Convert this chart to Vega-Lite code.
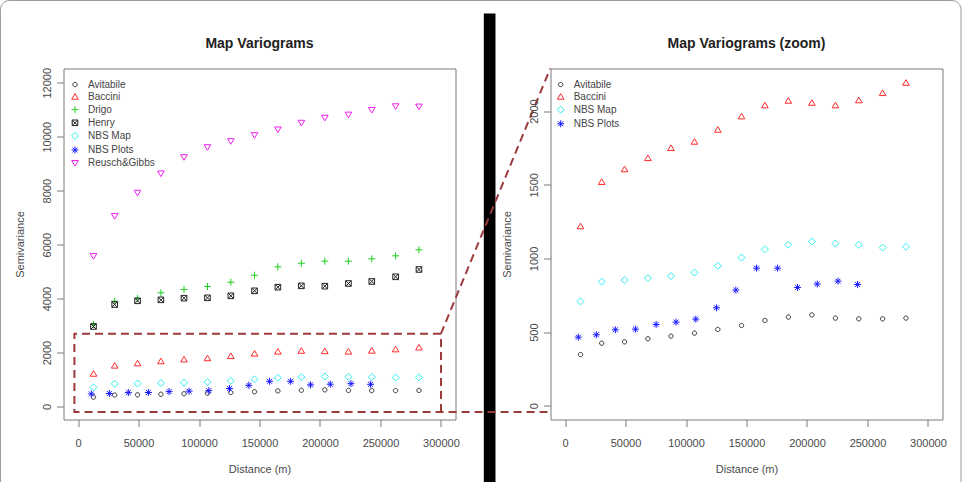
{
  "$schema": "https://vega.github.io/schema/vega-lite/v6.json",
  "background": "white",
  "padding": {"left": -1.5, "top": -0.5, "right": 0, "bottom": 0},
  "bounds": "flush",
  "spacing": 95,
  "datasets": {
    "variogram": [
      {"series": "Avitabile", "lag": 12800, "gamma": 348},
      {"series": "Avitabile", "lag": 30300, "gamma": 425},
      {"series": "Avitabile", "lag": 49200, "gamma": 434},
      {"series": "Avitabile", "lag": 68500, "gamma": 455},
      {"series": "Avitabile", "lag": 87600, "gamma": 473},
      {"series": "Avitabile", "lag": 107000, "gamma": 493},
      {"series": "Avitabile", "lag": 126300, "gamma": 518},
      {"series": "Avitabile", "lag": 145900, "gamma": 545},
      {"series": "Avitabile", "lag": 165200, "gamma": 579},
      {"series": "Avitabile", "lag": 184600, "gamma": 602},
      {"series": "Avitabile", "lag": 204000, "gamma": 617},
      {"series": "Avitabile", "lag": 223500, "gamma": 595},
      {"series": "Avitabile", "lag": 242800, "gamma": 590},
      {"series": "Avitabile", "lag": 262500, "gamma": 590},
      {"series": "Avitabile", "lag": 281800, "gamma": 595},
      {"series": "Baccini", "lag": 12800, "gamma": 1219},
      {"series": "Baccini", "lag": 30300, "gamma": 1520},
      {"series": "Baccini", "lag": 49200, "gamma": 1606},
      {"series": "Baccini", "lag": 68500, "gamma": 1682},
      {"series": "Baccini", "lag": 87600, "gamma": 1750},
      {"series": "Baccini", "lag": 107000, "gamma": 1793},
      {"series": "Baccini", "lag": 126300, "gamma": 1874},
      {"series": "Baccini", "lag": 145900, "gamma": 1965},
      {"series": "Baccini", "lag": 165200, "gamma": 2040},
      {"series": "Baccini", "lag": 184600, "gamma": 2071},
      {"series": "Baccini", "lag": 204000, "gamma": 2057},
      {"series": "Baccini", "lag": 223500, "gamma": 2040},
      {"series": "Baccini", "lag": 242800, "gamma": 2074},
      {"series": "Baccini", "lag": 262500, "gamma": 2123},
      {"series": "Baccini", "lag": 281800, "gamma": 2193},
      {"series": "Drigo", "lag": 12800, "gamma": 3040},
      {"series": "Drigo", "lag": 30300, "gamma": 3903},
      {"series": "Drigo", "lag": 49200, "gamma": 4004},
      {"series": "Drigo", "lag": 68500, "gamma": 4215},
      {"series": "Drigo", "lag": 87600, "gamma": 4337},
      {"series": "Drigo", "lag": 107000, "gamma": 4448},
      {"series": "Drigo", "lag": 126300, "gamma": 4608},
      {"series": "Drigo", "lag": 145900, "gamma": 4867},
      {"series": "Drigo", "lag": 165200, "gamma": 5178},
      {"series": "Drigo", "lag": 184600, "gamma": 5312},
      {"series": "Drigo", "lag": 204000, "gamma": 5386},
      {"series": "Drigo", "lag": 223500, "gamma": 5386},
      {"series": "Drigo", "lag": 242800, "gamma": 5475},
      {"series": "Drigo", "lag": 262500, "gamma": 5586},
      {"series": "Drigo", "lag": 281800, "gamma": 5809},
      {"series": "Henry", "lag": 12800, "gamma": 2966},
      {"series": "Henry", "lag": 30300, "gamma": 3781},
      {"series": "Henry", "lag": 49200, "gamma": 3918},
      {"series": "Henry", "lag": 68500, "gamma": 3955},
      {"series": "Henry", "lag": 87600, "gamma": 4015},
      {"series": "Henry", "lag": 107000, "gamma": 4029},
      {"series": "Henry", "lag": 126300, "gamma": 4103},
      {"series": "Henry", "lag": 145900, "gamma": 4289},
      {"series": "Henry", "lag": 165200, "gamma": 4423},
      {"series": "Henry", "lag": 184600, "gamma": 4474},
      {"series": "Henry", "lag": 204000, "gamma": 4460},
      {"series": "Henry", "lag": 223500, "gamma": 4560},
      {"series": "Henry", "lag": 242800, "gamma": 4634},
      {"series": "Henry", "lag": 262500, "gamma": 4808},
      {"series": "Henry", "lag": 281800, "gamma": 5079},
      {"series": "NBS Map", "lag": 12800, "gamma": 708},
      {"series": "NBS Map", "lag": 30300, "gamma": 843},
      {"series": "NBS Map", "lag": 49200, "gamma": 853},
      {"series": "NBS Map", "lag": 68500, "gamma": 866},
      {"series": "NBS Map", "lag": 87600, "gamma": 880},
      {"series": "NBS Map", "lag": 107000, "gamma": 904},
      {"series": "NBS Map", "lag": 126300, "gamma": 950},
      {"series": "NBS Map", "lag": 145900, "gamma": 1006},
      {"series": "NBS Map", "lag": 165200, "gamma": 1063},
      {"series": "NBS Map", "lag": 184600, "gamma": 1094},
      {"series": "NBS Map", "lag": 204000, "gamma": 1115},
      {"series": "NBS Map", "lag": 223500, "gamma": 1101},
      {"series": "NBS Map", "lag": 242800, "gamma": 1092},
      {"series": "NBS Map", "lag": 262500, "gamma": 1074},
      {"series": "NBS Map", "lag": 281800, "gamma": 1079},
      {"series": "NBS Plots", "lag": 11000, "gamma": 466},
      {"series": "NBS Plots", "lag": 25900, "gamma": 482},
      {"series": "NBS Plots", "lag": 41600, "gamma": 516},
      {"series": "NBS Plots", "lag": 58200, "gamma": 520},
      {"series": "NBS Plots", "lag": 75300, "gamma": 552},
      {"series": "NBS Plots", "lag": 91800, "gamma": 568},
      {"series": "NBS Plots", "lag": 108100, "gamma": 588},
      {"series": "NBS Plots", "lag": 125200, "gamma": 665},
      {"series": "NBS Plots", "lag": 141200, "gamma": 785},
      {"series": "NBS Plots", "lag": 158300, "gamma": 934},
      {"series": "NBS Plots", "lag": 175700, "gamma": 934},
      {"series": "NBS Plots", "lag": 192200, "gamma": 803},
      {"series": "NBS Plots", "lag": 208500, "gamma": 826},
      {"series": "NBS Plots", "lag": 225600, "gamma": 846},
      {"series": "NBS Plots", "lag": 241800, "gamma": 823},
      {"series": "Reusch&Gibbs", "lag": 12800, "gamma": 5572},
      {"series": "Reusch&Gibbs", "lag": 30300, "gamma": 7054},
      {"series": "Reusch&Gibbs", "lag": 49200, "gamma": 7919},
      {"series": "Reusch&Gibbs", "lag": 68500, "gamma": 8634},
      {"series": "Reusch&Gibbs", "lag": 87600, "gamma": 9238},
      {"series": "Reusch&Gibbs", "lag": 107000, "gamma": 9609},
      {"series": "Reusch&Gibbs", "lag": 126300, "gamma": 9831},
      {"series": "Reusch&Gibbs", "lag": 145900, "gamma": 10054},
      {"series": "Reusch&Gibbs", "lag": 165200, "gamma": 10265},
      {"series": "Reusch&Gibbs", "lag": 184600, "gamma": 10513},
      {"series": "Reusch&Gibbs", "lag": 204000, "gamma": 10698},
      {"series": "Reusch&Gibbs", "lag": 223500, "gamma": 10816},
      {"series": "Reusch&Gibbs", "lag": 242800, "gamma": 10990},
      {"series": "Reusch&Gibbs", "lag": 262500, "gamma": 11125},
      {"series": "Reusch&Gibbs", "lag": 281800, "gamma": 11114}
    ],
    "zoomFrame": [
      {"part": "box", "step": 1, "lag": 300000, "gamma": 2700},
      {"part": "box", "step": 2, "lag": -3000, "gamma": 2700},
      {"part": "box", "step": 3, "lag": -3000, "gamma": -200},
      {"part": "box", "step": 4, "lag": 388000, "gamma": -200},
      {"part": "side", "step": 1, "lag": 300000, "gamma": -200},
      {"part": "side", "step": 2, "lag": 300000, "gamma": 2700},
      {"part": "side", "step": 3, "lag": 390300, "gamma": 12530}
    ]
  },
  "config": {
    "font": "Liberation Sans",
    "view": {"stroke": "#7a7a7a", "strokeWidth": 1},
    "title": {"fontSize": 14, "fontWeight": "bold", "color": "#222222", "anchor": "middle", "frame": "group", "offset": 18},
    "axis": {
      "domain": false, "grid": false, "ticks": true,
      "tickColor": "#7a7a7a", "tickSize": 7,
      "labelFontSize": 11, "labelColor": "#4a4a4a",
      "labelFlush": false, "labelOverlap": false, "labelBound": false,
      "titleFontSize": 11, "titleFontWeight": "normal", "titleColor": "#4a4a4a"
    },
    "axisX": {"labelPadding": 11, "titlePadding": 15},
    "axisY": {"labelAngle": 270, "labelAlign": "center", "labelBaseline": "bottom", "labelPadding": 4, "titlePadding": 16},
    "legend": {
      "orient": "none", "title": null, "padding": 0,
      "labelFontSize": 10, "labelColor": "#444444", "labelOffset": 8,
      "symbolSize": 49, "symbolStrokeWidth": 1, "rowPadding": 2.1
    }
  },
  "hconcat": [
    {
      "width": 392,
      "height": 351,
      "title": {"text": "Map Variograms", "offset": -50.5},
      "layer": [
        {
          "data": {"values": [{}]},
          "mark": {"type": "rect", "filled": false, "stroke": "#9a9a9a", "strokeWidth": 1, "cornerRadius": 9, "clip": false},
          "encoding": {
            "x": {"datum": -64100, "type": "quantitative"},
            "x2": {"datum": 729800},
            "y": {"datum": 15050, "type": "quantitative"},
            "y2": {"datum": -3300}
          }
        },
        {
          "data": {"values": [{}]},
          "mark": {"type": "rect", "color": "black", "clip": false},
          "encoding": {
            "x": {"datum": 335400, "type": "quantitative"},
            "x2": {"datum": 345050},
            "y": {"datum": 14570, "type": "quantitative"},
            "y2": {"datum": -3300}
          }
        },
        {
          "data": {"name": "variogram"},
          "mark": {"type": "point", "filled": false, "strokeWidth": 1, "size": 49, "opacity": 1},
          "encoding": {
            "x": {"field": "lag", "type": "quantitative", "title": "Distance (m)",
              "scale": {"domain": [-12000, 312000], "nice": false, "zero": false},
              "axis": {"values": [0, 50000, 100000, 150000, 200000, 250000, 300000], "format": "d"}},
            "y": {"field": "gamma", "type": "quantitative", "title": "Semivariance",
              "scale": {"domain": [-482, 12530], "nice": false, "zero": false},
              "axis": {"values": [0, 2000, 4000, 6000, 8000, 10000, 12000], "format": "d"}},
            "color": {"field": "series", "type": "nominal",
              "scale": {"domain": ["Avitabile", "Baccini", "Drigo", "Henry", "NBS Map", "NBS Plots", "Reusch&Gibbs"],
                "range": ["#333333", "#ff2a2a", "#1ecf1e", "#222222", "#2ef0f0", "#1a1aff", "#f020f0"]},
              "legend": {"legendX": 6.5, "legendY": 11}},
            "shape": {"field": "series", "type": "nominal",
              "scale": {"domain": ["Avitabile", "Baccini", "Drigo", "Henry", "NBS Map", "NBS Plots", "Reusch&Gibbs"],
                "range": [
                  "M-0.62,0A0.62,0.62 0 1,0 0.62,0A0.62,0.62 0 1,0 -0.62,0Z",
                  "M0,-0.85L0.95,0.75L-0.95,0.75Z",
                  "M-1,0H1M0,-1V1",
                  "M-0.8,-0.8H0.8V0.8H-0.8ZM-0.8,-0.8L0.8,0.8M0.8,-0.8L-0.8,0.8",
                  "M0,-1L1,0L0,1L-1,0Z",
                  "M-1,0H1M0,-1V1M-0.7,-0.7L0.7,0.7M0.7,-0.7L-0.7,0.7",
                  "M0,0.85L0.95,-0.75L-0.95,-0.75Z"
                ]},
              "legend": {"legendX": 6.5, "legendY": 11}}
          }
        },
        {
          "data": {"name": "zoomFrame"},
          "mark": {"type": "line", "stroke": "#9c3a3c", "strokeWidth": 2, "strokeDash": [8, 5], "clip": false},
          "encoding": {
            "x": {"field": "lag", "type": "quantitative"},
            "y": {"field": "gamma", "type": "quantitative"},
            "detail": {"field": "part"},
            "order": {"field": "step"}
          }
        }
      ]
    },
    {
      "width": 392,
      "height": 351,
      "title": "Map Variograms (zoom)",
      "data": {"name": "variogram"},
      "transform": [{"filter": {"field": "series", "oneOf": ["Avitabile", "Baccini", "NBS Map", "NBS Plots"]}}],
      "mark": {"type": "point", "filled": false, "strokeWidth": 1, "size": 49, "opacity": 1},
      "encoding": {
        "x": {"field": "lag", "type": "quantitative", "title": "Distance (m)",
          "scale": {"domain": [-12000, 312000], "nice": false, "zero": false},
          "axis": {"values": [0, 50000, 100000, 150000, 200000, 250000, 300000], "format": "d"}},
        "y": {"field": "gamma", "type": "quantitative", "title": "Semivariance",
          "scale": {"domain": [-93, 2289], "nice": false, "zero": false},
          "axis": {"values": [0, 500, 1000, 1500, 2000], "format": "d"}},
        "color": {"field": "series", "type": "nominal",
          "scale": {"domain": ["Avitabile", "Baccini", "NBS Map", "NBS Plots"],
            "range": ["#333333", "#ff2a2a", "#2ef0f0", "#1a1aff"]},
          "legend": {"legendX": 5.2, "legendY": 11}},
        "shape": {"field": "series", "type": "nominal",
          "scale": {"domain": ["Avitabile", "Baccini", "NBS Map", "NBS Plots"],
            "range": [
              "M-0.62,0A0.62,0.62 0 1,0 0.62,0A0.62,0.62 0 1,0 -0.62,0Z",
              "M0,-0.85L0.95,0.75L-0.95,0.75Z",
              "M0,-1L1,0L0,1L-1,0Z",
              "M-1,0H1M0,-1V1M-0.7,-0.7L0.7,0.7M0.7,-0.7L-0.7,0.7"
            ]},
          "legend": {"legendX": 5.2, "legendY": 11}}
      }
    }
  ],
  "resolve": {
    "scale": {"x": "independent", "y": "independent", "color": "independent", "shape": "independent"},
    "legend": {"color": "independent", "shape": "independent"}
  }
}
